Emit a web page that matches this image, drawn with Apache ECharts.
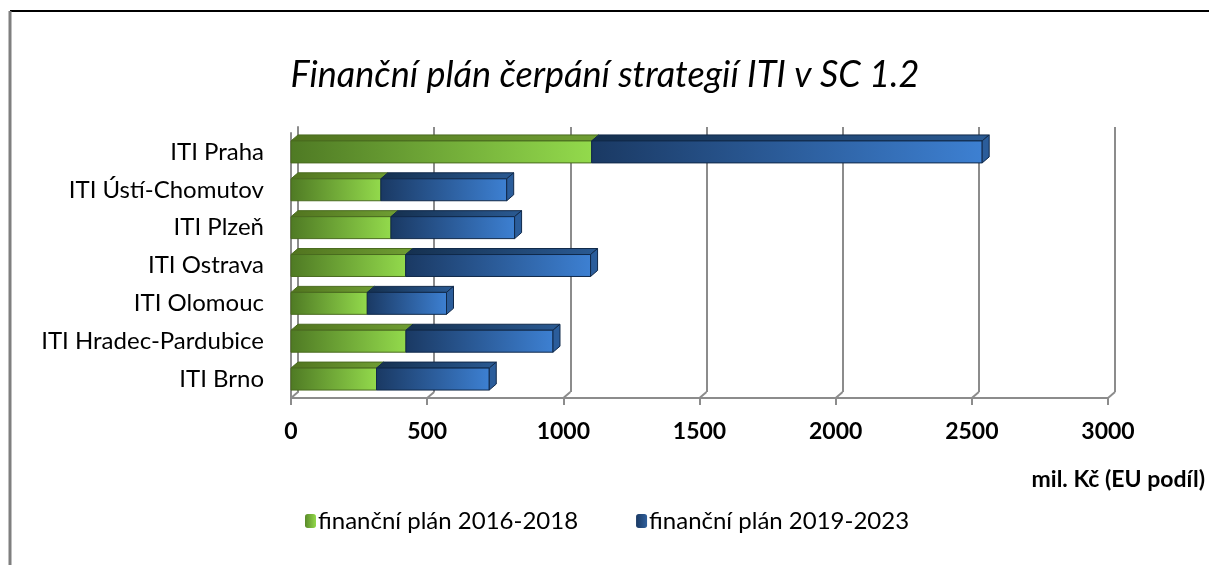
<!DOCTYPE html>
<html>
<head>
<meta charset="utf-8">
<script src="https://cdn.jsdelivr.net/npm/echarts@6/dist/echarts.min.js"></script>
<style>
  html, body { margin: 0; padding: 0; background: #fff; }
  #chart { width: 1209px; height: 565px; }
</style>
</head>
<body>
<div id="chart"></div>
<script>
// data (mil. Kč)
const regions = ['ITI Brno', 'ITI Hradec-Pardubice', 'ITI Olomouc', 'ITI Ostrava', 'ITI Plzeň', 'ITI Ústí-Chomutov', 'ITI Praha']
const plan1618 = [314, 422, 280, 421, 367, 330, 1104]
const plan1923 = [414, 540, 291, 679, 454, 462, 1434]
const xTicks = [0, 500, 1000, 1500, 2000, 2500, 3000]

const FONT = 'Lato'
const DX = 7, DY = 6 // 3d depth

const chart = echarts.init(document.getElementById('chart'))

function grad (a, b) {
  return new echarts.graphic.LinearGradient(0, 0, 1, 0, [
    { offset: 0, color: a },
    { offset: 1, color: b }
  ])
}

const look = {
  green: { front: ['#4f7a24', '#93da4c'], top: ['#51741f', '#6f9e33'], side: '#5f8f2c', line: '#4a6b1f' },
  blue: { front: ['#1a3963', '#3d80d2'], top: ['#15304f', '#2a5a93'], side: '#2b5d9b', line: '#10294a' }
}

function makeBar (st, withSide) {
  return function (params, api) {
    const cat = api.value(0)
    const from = api.value(1)
    const to = api.value(2)
    const p0 = api.coord([from, cat])
    const p1 = api.coord([to, cat])
    const h = api.size([0, 1])[1] * 0.58
    const x0 = p0[0], x1 = p1[0], y0 = p0[1] - h / 2, y1 = p0[1] + h / 2
    const kids = [
      {
        type: 'polygon',
        shape: { points: [[x0, y0], [x1, y0], [x1 + DX, y0 - DY], [x0 + DX, y0 - DY]] },
        style: { fill: grad(st.top[0], st.top[1]), stroke: st.line, lineWidth: 1 }
      },
      {
        type: 'rect',
        shape: { x: x0, y: y0, width: x1 - x0, height: h },
        style: { fill: grad(st.front[0], st.front[1]), stroke: st.line, lineWidth: 1 }
      }
    ]
    if (withSide) {
      kids.push({
        type: 'polygon',
        shape: { points: [[x1, y0], [x1 + DX, y0 - DY], [x1 + DX, y1 - DY], [x1, y1]] },
        style: { fill: st.side, stroke: st.line, lineWidth: 1 }
      })
    }
    return { type: 'group', children: kids }
  }
}

const greenData = regions.map((r, i) => [i, 0, plan1618[i]])
const blueData = regions.map((r, i) => [i, plan1618[i], plan1618[i] + plan1923[i]])

const option = {
  animation: false,
  backgroundColor: '#fff',
  title: {
    text: 'Finanční plán čerpání strategií ITI v SC 1.2',
    left: 600,
    textAlign: 'center',
    top: 52,
    textStyle: { fontFamily: FONT, fontStyle: 'italic', fontWeight: 'normal', fontSize: 36, color: '#000' }
  },
  legend: {
    top: 504,
    left: 300,
    itemWidth: 11,
    itemHeight: 14,
    itemGap: 58,
    textStyle: { fontFamily: FONT, fontSize: 24, color: '#000', padding: [0, 0, 0, -3] },
    data: ['finanční plán 2016-2018', 'finanční plán 2019-2023']
  },
  grid: [
    // front plane (bars, axis labels)
    { left: 291, right: 101, top: 133, bottom: 167 },
    // back wall, shifted by the 3d depth
    { left: 291 + DX, right: 101 - DX, top: 133 - DY, bottom: 167 + DY }
  ],
  xAxis: [
    {
      gridIndex: 0, type: 'value', min: 0, max: 3000, interval: 500,
      axisLine: { show: true, lineStyle: { color: '#8c8c8c', width: 2 } },
      axisTick: { show: true, length: 7, lineStyle: { color: '#8c8c8c', width: 2 } },
      splitLine: { show: false },
      axisLabel: {
        margin: 22, fontFamily: FONT, fontSize: 23, fontWeight: 'bold', color: '#000',
        formatter: v => String(v)
      }
    },
    {
      gridIndex: 1, type: 'value', min: 0, max: 3000, interval: 500,
      axisLine: { show: false }, axisTick: { show: false }, axisLabel: { show: false },
      splitLine: { show: true, lineStyle: { color: '#8c8c8c', width: 2 } }
    }
  ],
  yAxis: [
    {
      gridIndex: 0, type: 'category', data: regions,
      axisLine: { show: true, lineStyle: { color: '#8c8c8c', width: 2 } },
      axisTick: { show: false },
      axisLabel: { margin: 27, fontFamily: FONT, fontSize: 24, color: '#000' }
    },
    {
      gridIndex: 1, type: 'category', data: regions,
      axisLine: { show: true, lineStyle: { color: '#8c8c8c', width: 2 } },
      axisTick: { show: false }, axisLabel: { show: false }
    }
  ],
  series: [
    {
      // floor edges joining the back wall to the front axis
      type: 'custom',
      xAxisIndex: 0, yAxisIndex: 0,
      silent: true,
      data: xTicks,
      renderItem: function (params, api) {
        const x = api.coord([api.value(0), 0])[0]
        const yb = params.coordSys.y + params.coordSys.height
        return {
          type: 'line',
          shape: { x1: x, y1: yb, x2: x + DX, y2: yb - DY },
          style: { stroke: '#8c8c8c', lineWidth: 2 }
        }
      },
      z: 1
    },
    {
      name: 'finanční plán 2016-2018',
      type: 'custom',
      xAxisIndex: 0, yAxisIndex: 0,
      itemStyle: { color: grad('#5a8a2a', '#92d94a') },
      data: greenData,
      encode: { x: [1, 2], y: 0 },
      renderItem: makeBar(look.green, false),
      z: 3
    },
    {
      name: 'finanční plán 2019-2023',
      type: 'custom',
      xAxisIndex: 0, yAxisIndex: 0,
      itemStyle: { color: grad('#1a3963', '#2f5f9c') },
      data: blueData,
      encode: { x: [1, 2], y: 0 },
      renderItem: makeBar(look.blue, true),
      z: 3
    }
  ],
  graphic: [
    {
      type: 'text', right: 4, top: 468,
      style: { text: 'mil. Kč (EU podíl)', fontFamily: FONT, fontSize: 23, fontWeight: 'bold', fill: '#000' }
    },
    { type: 'line', shape: { x1: 10, y1: 11, x2: 1209, y2: 11 }, style: { stroke: '#000', lineWidth: 2 } },
    { type: 'line', shape: { x1: 10, y1: 11, x2: 10, y2: 565 }, style: { stroke: '#7f7f7f', lineWidth: 3 } }
  ]
}

chart.setOption(option)
</script>
</body>
</html>
